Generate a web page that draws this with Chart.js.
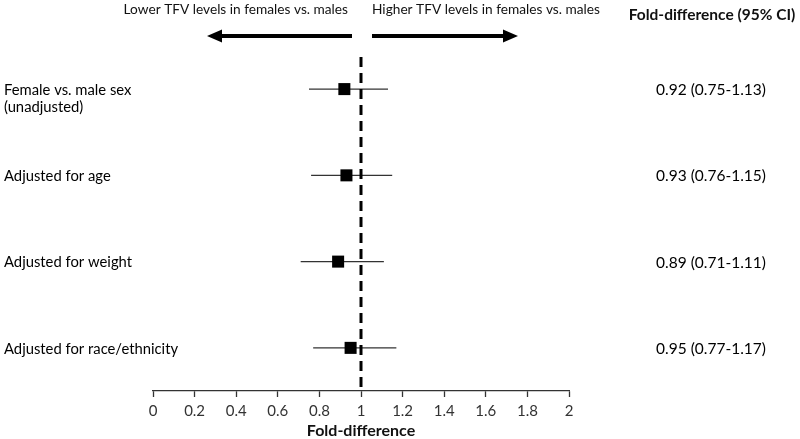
<!DOCTYPE html>
<html>
<head>
<meta charset="utf-8">
<script src="https://cdn.jsdelivr.net/npm/chart.js@4.4.1/dist/chart.umd.min.js"></script>
<style>
  html, body { margin: 0; padding: 0; background: #fff; }
  #wrap { width: 800px; height: 439px; position: relative; }
</style>
</head>
<body>
<div id="wrap"><canvas id="chart"></canvas></div>
<script>
const rows = [["Female vs. male sex", "(unadjusted)"], ["Adjusted for age"], ["Adjusted for weight"], ["Adjusted for race/ethnicity"]];
const estimate = [0.92, 0.93, 0.89, 0.95];
const lower = [0.75, 0.76, 0.71, 0.77];
const upper = [1.13, 1.15, 1.11, 1.17];
const ciText = ["0.92 (0.75-1.13)", "0.93 (0.76-1.15)", "0.89 (0.71-1.11)", "0.95 (0.77-1.17)"];
const xTicks = [0, 0.2, 0.4, 0.6, 0.8, 1, 1.2, 1.4, 1.6, 1.8, 2];

const yMin = -0.372, yMax = 3.5;
const font = "Lato, 'Open Sans', sans-serif";

const ciSets = rows.map((r, i) => ({
  type: "line",
  data: [{ x: lower[i], y: i }, { x: upper[i], y: i }],
  borderColor: "#333",
  borderWidth: 1.3,
  pointRadius: 0,
  order: 2
}));

const datasets = [
  {
    type: "scatter",
    data: estimate.map((v, i) => ({ x: v, y: i })),
    pointStyle: "rect",
    pointRadius: 8.5,
    backgroundColor: "#000",
    borderColor: "#000",
    borderWidth: 0,
    order: 0
  },
  {
    type: "line",
    data: [{ x: 1, y: yMin }, { x: 1, y: yMax }],
    borderColor: "#000",
    borderWidth: 3,
    borderDash: [10, 6],
    pointRadius: 0,
    order: 1
  },
  ...ciSets
];

function arrow(ctx, x1, x2, y) {
  const dir = x2 > x1 ? 1 : -1;
  ctx.beginPath();
  ctx.moveTo(x1, y);
  ctx.lineTo(x2 - dir * 10, y);
  ctx.lineWidth = 4;
  ctx.strokeStyle = "#000";
  ctx.stroke();
  ctx.beginPath();
  ctx.moveTo(x2, y);
  ctx.lineTo(x2 - dir * 15, y - 6.5);
  ctx.lineTo(x2 - dir * 15, y + 6.5);
  ctx.closePath();
  ctx.fillStyle = "#000";
  ctx.fill();
}

const labels = {
  id: "labels",
  afterDraw(chart) {
    const ctx = chart.ctx;
    const ys = chart.scales.y;
    ctx.save();
    ctx.fillStyle = "#111";
    ctx.textBaseline = "middle";

    ctx.font = "13.7px " + font;
    ctx.textAlign = "right";
    ctx.fillText("Lower TFV levels in females vs. males", 348, 10);
    ctx.textAlign = "left";
    ctx.fillText("Higher TFV levels in females vs. males", 372, 10);

    ctx.font = "bold 15.5px " + font;
    ctx.textAlign = "center";
    ctx.fillText("Fold-difference (95% CI)", 712, 15);

    arrow(ctx, 352, 207, 36);
    arrow(ctx, 372, 518, 36);

    rows.forEach((r, i) => {
      const y = ys.getPixelForValue(i);
      ctx.font = "14.8px " + font;
      ctx.textAlign = "left";
      r.forEach((line, k) => ctx.fillText(line, 4, y + 1 + k * 17));
      ctx.textAlign = "center";
      ctx.font = "15.5px " + font;
      ctx.fillText(ciText[i], 711, y + 1);
    });
    ctx.restore();
  }
};

new Chart(document.getElementById("chart"), {
  data: { datasets },
  options: {
    responsive: true,
    maintainAspectRatio: false,
    animation: false,
    layout: { padding: { left: 153, right: 231, top: 57, bottom: 0 } },
    plugins: { legend: { display: false }, tooltip: { enabled: false } },
    scales: {
      x: {
        type: "linear",
        min: 0,
        max: 2,
        afterBuildTicks: s => { s.ticks = xTicks.map(v => ({ value: v })); },
        grid: { drawOnChartArea: false, drawTicks: true, tickLength: 6, color: "#333", tickWidth: 1.3 },
        border: { color: "#333", width: 1.3 },
        ticks: {
          color: "#333",
          padding: 7,
          maxRotation: 0,
          font: { family: font, size: 15, lineHeight: 1 },
          callback: v => String(Math.round(v * 10) / 10)
        },
        title: {
          display: true,
          text: "Fold-difference",
          color: "#111",
          padding: { top: -3, bottom: 0 },
          font: { family: font, size: 16, weight: "bold", lineHeight: 1 }
        }
      },
      y: {
        type: "linear",
        reverse: true,
        min: yMin,
        max: yMax,
        display: false
      }
    }
  },
  plugins: [labels]
});
</script>
</body>
</html>
